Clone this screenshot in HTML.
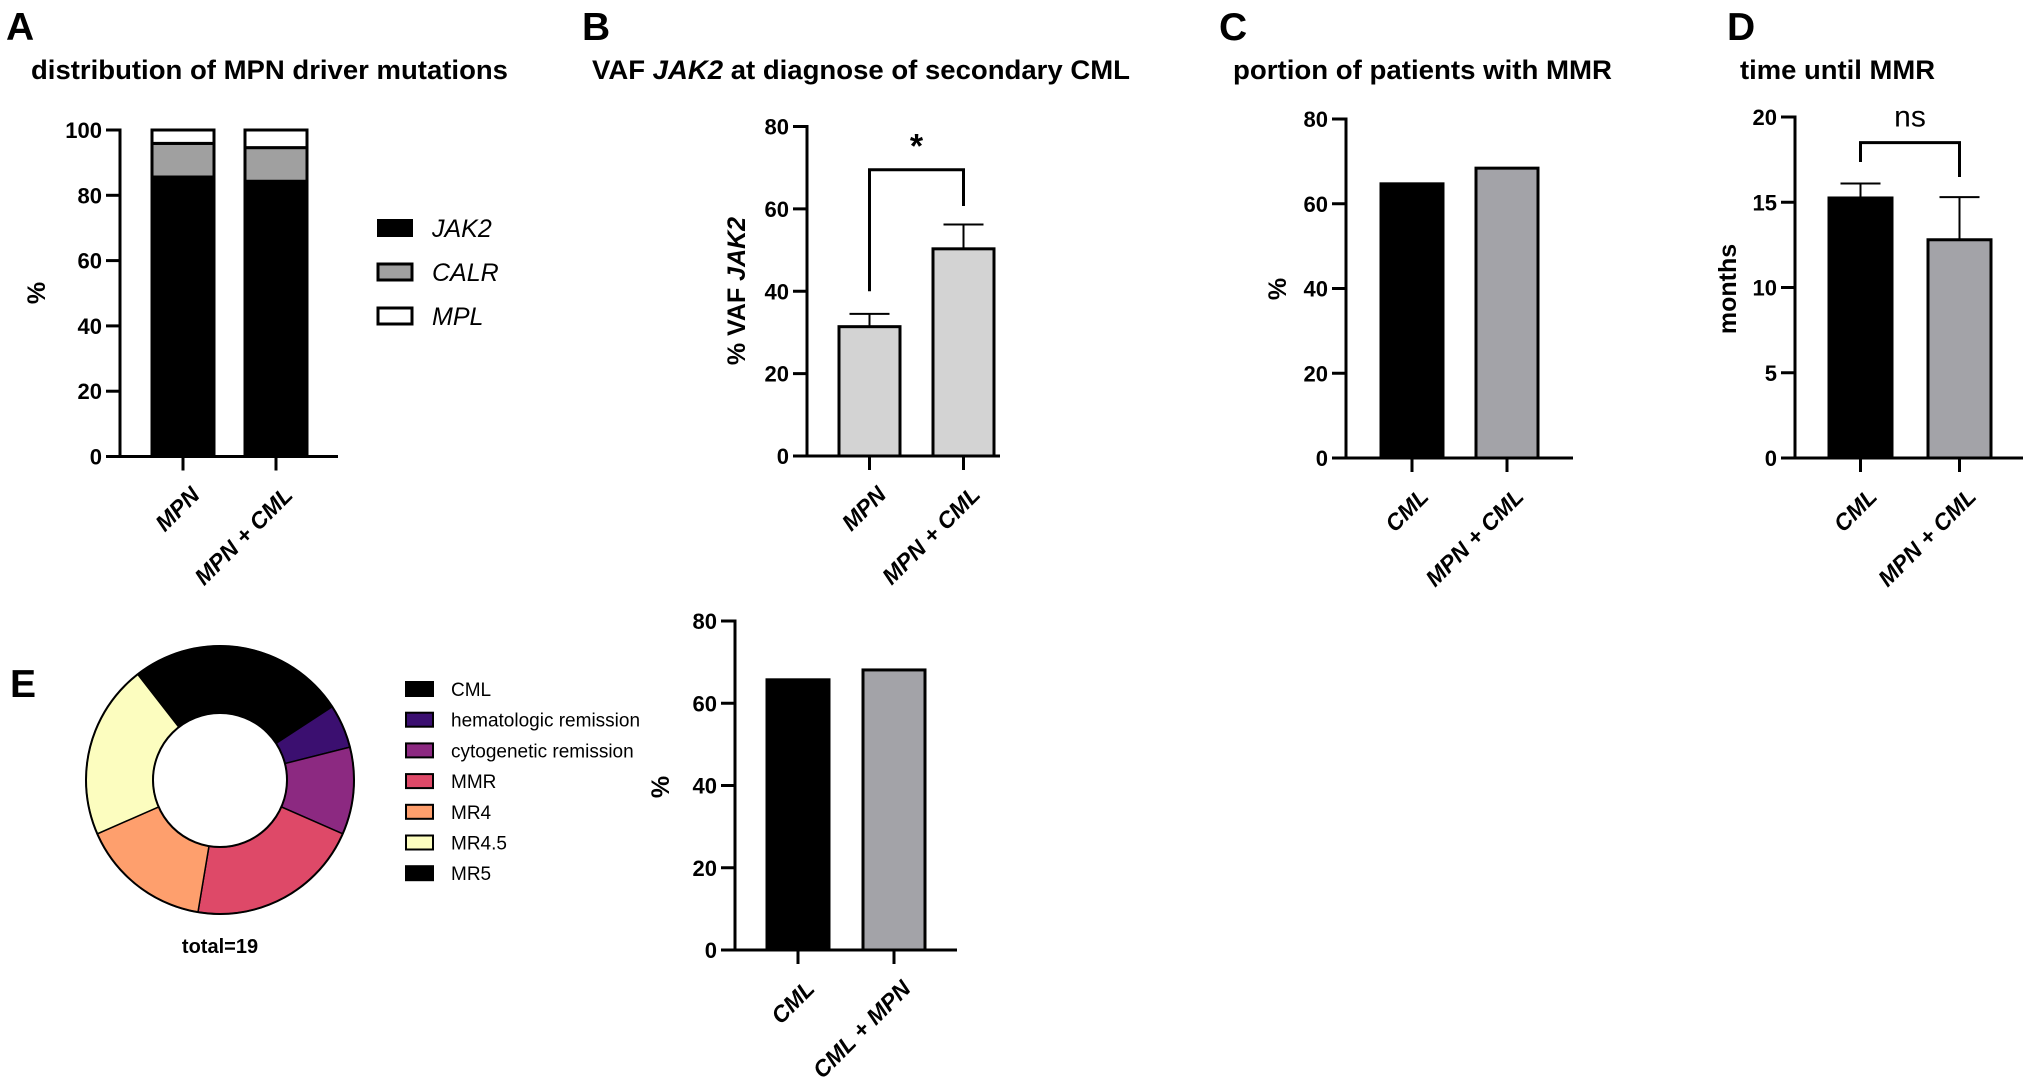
<!DOCTYPE html>
<html><head><meta charset="utf-8"><style>
html,body{margin:0;padding:0;background:#fff;}
svg{display:block;font-family:"Liberation Sans",Arial,sans-serif;}
.t{font-weight:bold;font-size:27px;}
.L{font-weight:bold;font-size:39px;}
.tick{font-weight:bold;font-size:22px;}
.yl{font-weight:bold;font-size:25px;}
</style></head><body>
<svg id="fig" width="2030" height="1087" viewBox="0 0 2030 1087">
<text class="L" x="6" y="40">A</text>
<text class="L" x="582" y="40">B</text>
<text class="L" x="1219" y="40">C</text>
<text class="L" x="1727" y="40">D</text>
<text class="L" x="10" y="697">E</text>
<text class="t" x="31" y="79" textLength="477" lengthAdjust="spacingAndGlyphs">distribution of MPN driver mutations</text>
<text class="t" x="592" y="79" textLength="538" lengthAdjust="spacingAndGlyphs">VAF <tspan font-style="italic">JAK2</tspan> at diagnose of secondary CML</text>
<text class="t" x="1233" y="79" textLength="379" lengthAdjust="spacingAndGlyphs">portion of patients with MMR</text>
<text class="t" x="1740" y="79" textLength="195" lengthAdjust="spacingAndGlyphs">time until MMR</text>
<text class="yl" transform="translate(45,293) rotate(-90)" text-anchor="middle">%</text>
<text class="yl" transform="translate(745,291) rotate(-90)" text-anchor="middle">% VAF <tspan font-style="italic">JAK2</tspan></text>
<text class="yl" transform="translate(1286,289) rotate(-90)" text-anchor="middle">%</text>
<text class="yl" transform="translate(1736,289) rotate(-90)" text-anchor="middle">months</text>
<text class="yl" transform="translate(669,787) rotate(-90)" text-anchor="middle">%</text>
<g>
<rect x="378" y="220" width="34" height="16" fill="#000" stroke="#000" stroke-width="2"/>
<text x="432" y="237" font-size="25" font-style="italic">JAK2</text>
<rect x="378" y="264" width="34" height="16" fill="#a0a0a0" stroke="#000" stroke-width="3"/>
<text x="432" y="281" font-size="25" font-style="italic">CALR</text>
<rect x="378" y="308" width="34" height="16" fill="#fff" stroke="#000" stroke-width="3"/>
<text x="432" y="325" font-size="25" font-style="italic">MPL</text>
</g>
<text x="220" y="953" font-size="20" font-weight="bold" text-anchor="middle">total=19</text>
<g id="legE"></g>
<g id="marks"></g>
</svg>
<script>
const aCats=['MPN','MPN + CML'];
const aJak2=[85.6,84.3];
const aCalr=[10.3,10.3];
const aMpl=[4.1,5.4];
const aTicks=[0,20,40,60,80,100];
const bCats=['MPN','MPN + CML'];
const bMeans=[31.4,50.3];
const bErr=[3.1,5.9];
const bTicks=[0,20,40,60,80];
const cCats=['CML','MPN + CML'];
const cVals=[64.7,68.4];
const cTicks=[0,20,40,60,80];
const dCats=['CML','MPN + CML'];
const dMeans=[15.25,12.8];
const dErr=[0.85,2.5];
const dTicks=[0,5,10,15,20];
const eCats=['CML','CML + MPN'];
const eVals=[65.7,68.1];
const eTicks=[0,20,40,60,80];
const sliceNames=['CML','hematologic remission','cytogenetic remission','MMR','MR4','MR4.5','MR5'];
const sliceCounts=[5,1,2,4,3,4,0];
const sliceColors=['#000000','#3b0f70','#8c2981','#de4968','#fe9f6d','#fcfdbf','#000000'];

const NS='http://www.w3.org/2000/svg';
const root=document.getElementById('marks');
function mk(tag,attrs,parent){const e=document.createElementNS(NS,tag);for(const k in attrs)e.setAttribute(k,attrs[k]);(parent||root).appendChild(e);return e;}

function axis(id,ax,y0,xEnd,ticks,ys,cats,barL,step,bw){
  const g=mk('g',{});
  
  
  const yl=mk('line',{x1:ax,y1:ys(ticks[ticks.length-1])-1.5,x2:ax,y2:y0,stroke:'#000','stroke-width':3},g);
  
  
  const xl=mk('line',{x1:ax-13,y1:y0,x2:xEnd,y2:y0,stroke:'#000','stroke-width':3},g);
  
  
  ticks.forEach(t=>{
    const y=ys(t);
    const tl=mk('line',{x1:ax-14,y1:y,x2:ax,y2:y,stroke:'#000','stroke-width':3},g);
    
    
    const tx=mk('text',{x:ax-18,y:y+8,'text-anchor':'end',class:'tick'},g);
    tx.textContent=t;
    
    
  });
  cats.forEach((c,i)=>{
    const cx=barL+i*step+bw/2;
    const tk=mk('line',{x1:cx,y1:y0,x2:cx,y2:y0+14,stroke:'#000','stroke-width':3},g);
    
    
    const tx=mk('text',{transform:'translate('+(cx+18)+','+(y0+40)+') rotate(-45)','text-anchor':'end','font-size':'23','font-weight':'bold','font-style':'italic'},g);
    tx.textContent=c;
    
    
  });
}
function bar(id,x,w,ys,v0,v1,fill){
  const r=mk('rect',{x:x,y:ys(v1),width:w,height:ys(v0)-ys(v1),fill:fill,stroke:'#000','stroke-width':3});
  
  
  return r;
}
function errbar(id,cx,ys,m,e){
  const l=mk('path',{d:'M'+cx+','+ys(m)+'V'+ys(m+e)+'M'+(cx-20)+','+ys(m+e)+'H'+(cx+20),stroke:'#000','stroke-width':2,fill:'none'});
  
  
}

// Panel A
const yA=v=>456.5-v*3.265;
axis('a',120,456.5,338,aTicks,yA,aCats,152,93,62);
aCats.forEach((c,i)=>{
  const x=152+i*93;
  bar('jak2-'+i,x,62,yA,0,aJak2[i],'#000');
  bar('calr-'+i,x,62,yA,aJak2[i],aJak2[i]+aCalr[i],'#a0a0a0');
  bar('mpl-'+i,x,62,yA,aJak2[i]+aCalr[i],aJak2[i]+aCalr[i]+aMpl[i],'#fff');
});

// Panel B
const yB=v=>456-v*329.5/80;
axis('b',807,456,1000,bTicks,yB,bCats,839,94,61);
bCats.forEach((c,i)=>{
  const x=839+i*94;
  errbar('b-'+i,x+30.5,yB,bMeans[i],bErr[i]);
  bar('b-'+i,x,61,yB,0,bMeans[i],'#d3d3d3');
});
{
  const x1=839+30.5,x2=839+94+30.5,top=yB(Math.max(...bMeans.map((m,i)=>m+bErr[i]))+13.3);
  const br=mk('path',{d:'M'+x1+','+yB(bMeans[0]+bErr[0]+5.5)+'V'+top+'H'+x2+'V'+yB(bMeans[1]+bErr[1]+4.5),stroke:'#000','stroke-width':3,fill:'none'});
  
  
  const st=mk('text',{x:(x1+x2)/2,y:top-12,'text-anchor':'middle','font-size':'34','font-weight':'bold'});
  st.textContent='*';
  
  
}

// Panel C
const yC=v=>458-v*339/80;
axis('c',1346,458,1573,cTicks,yC,cCats,1381,95,62);
cVals.forEach((v,i)=>{bar('c-'+i,1381+i*95,62,yC,0,v,i?'#a3a3a8':'#000');});

// Panel D
const yD=v=>458-v*341/20;
axis('d',1795,458,2023,dTicks,yD,dCats,1829,99,63);
dMeans.forEach((m,i)=>{
  const x=1829+i*99;
  errbar('d-'+i,x+31.5,yD,m,dErr[i]);
  bar('d-'+i,x,63,yD,0,m,i?'#a3a3a8':'#000');
});
{
  const x1=1829+31.5,x2=1829+99+31.5,top=yD(Math.max(...dMeans.map((m,i)=>m+dErr[i]))+2.4);
  const br=mk('path',{d:'M'+x1+','+yD(dMeans[0]+dErr[0]+1.26)+'V'+top+'H'+x2+'V'+yD(dMeans[1]+dErr[1]+1.18),stroke:'#000','stroke-width':3,fill:'none'});
  
  
  const st=mk('text',{x:(x1+x2)/2,y:top-16,'text-anchor':'middle','font-size':'30'});
  st.textContent='ns';
  
  
}

// Panel E bar
const yE=v=>950-v*329/80;
axis('e',735,950,957,eTicks,yE,eCats,767,96,62);
eVals.forEach((v,i)=>{bar('e-'+i,767+i*96,62,yE,0,v,i?'#a3a3a8':'#000');});

// Donut
const cx=220,cy=780,R=134,r=67;
const total=sliceCounts.reduce((a,b)=>a+b,0);
let ang=-2/19*2*Math.PI;
function pt(a,rad){return [cx+rad*Math.sin(a),cy-rad*Math.cos(a)];}
sliceCounts.forEach((n,i)=>{
  if(n<=0)return;
  const a0=ang,a1=ang+n/total*2*Math.PI;ang=a1;
  const lg=(a1-a0)>Math.PI?1:0;
  const p0=pt(a0,R),p1=pt(a1,R),q1=pt(a1,r),q0=pt(a0,r);
  const s=mk('path',{d:'M'+p0+'A'+R+','+R+' 0 '+lg+' 1 '+p1+'L'+q1+'A'+r+','+r+' 0 '+lg+' 0 '+q0+'Z',fill:sliceColors[i],stroke:'#000','stroke-width':1.5});
  
  
});
const ring=mk('circle',{cx:cx,cy:cy,r:R,fill:'none',stroke:'#000','stroke-width':2});


const ring2=mk('circle',{cx:cx,cy:cy,r:r,fill:'#fff',stroke:'#000','stroke-width':2});



const legE=document.getElementById('legE');
sliceNames.forEach((n,i)=>{
  const y=689+i*30.7;
  const sw=mk('rect',{x:406,y:y-7,width:27,height:14,fill:sliceColors[i],stroke:'#000','stroke-width':2},legE);
  
  
  const t=mk('text',{x:451,y:y+7,'font-size':'19'},legE);
  t.textContent=n;
  
  
});
</script>
</body></html>
